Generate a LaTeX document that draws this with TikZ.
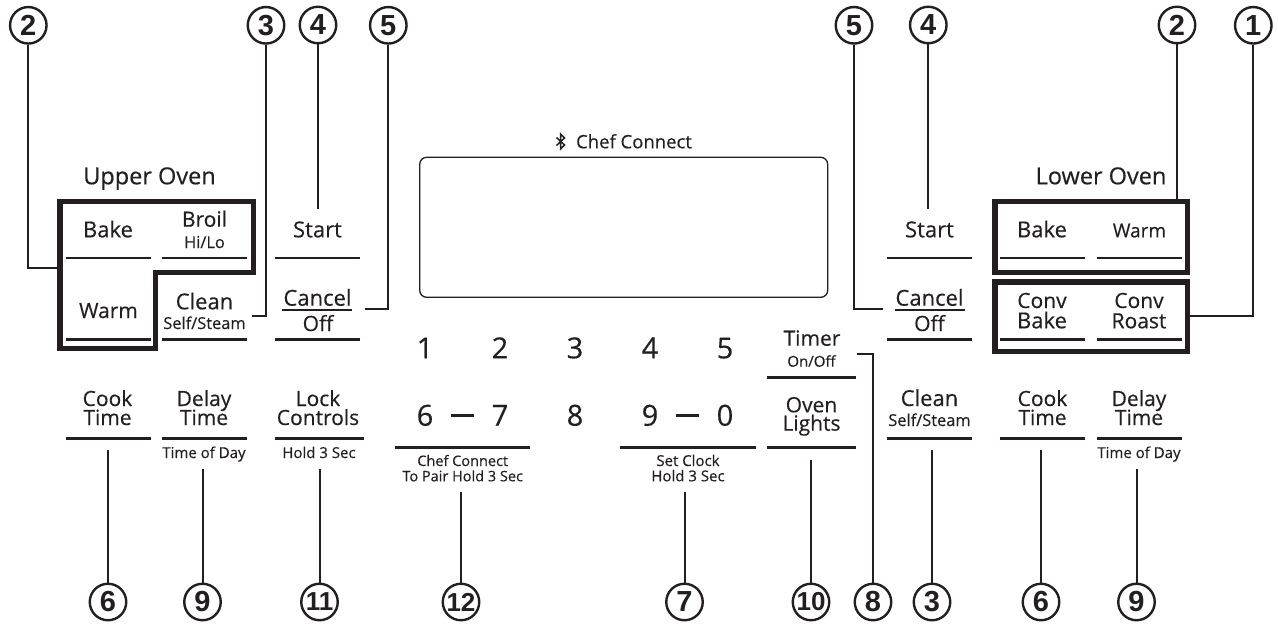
\documentclass[tikz,border=0pt]{standalone}
\usepackage{fontspec}
\setmainfont[FakeBold=0.35]{Open Sans}
\newfontfamily\callfont{Liberation Sans}
\usepackage{tikz}
\usetikzlibrary{calc}

\definecolor{panelink}{HTML}{231F20}
\tikzset{
  keytext/.style={inner sep=0pt, anchor=base, text=panelink, font=\fontsize{21}{21}\selectfont},
  keybig/.style={keytext, font=\fontsize{22}{22}\selectfont},
  subtext/.style={inner sep=0pt, anchor=base, text=panelink, font=\fontsize{15}{15}\selectfont},
  subbig/.style={subtext, font=\fontsize{16.4}{16.4}\selectfont},
  subsmall/.style={subtext, font=\fontsize{14.5}{14.5}\selectfont},
  headtext/.style={inner sep=0pt, anchor=base, text=panelink, font=\fontsize{23.5}{23.5}\selectfont},
  numtext/.style={inner sep=0pt, anchor=base, text=panelink, font=\fontsize{29}{29}\selectfont},
  callout/.style={draw=panelink, circle, line width=2.4pt, minimum size=36.5pt, inner sep=0pt, text=panelink, font=\callfont\bfseries\fontsize{29}{29}\selectfont},
  calltwin/.style={callout, font=\callfont\bfseries\fontsize{26}{26}\selectfont},
  leader/.style={draw=panelink, line width=2pt},
  keyline/.style={draw=panelink, line width=2.7pt},
  groupbox/.style={draw=panelink, line width=5.2pt, miter limit=10}
}

\begin{document}
\begin{tikzpicture}[x=1pt, y=-1pt]
\useasboundingbox (0,0) rectangle (1278,634);

% Display window
\node[draw=panelink, line width=1.3pt, rectangle, rounded corners=7pt, minimum width=408pt, minimum height=140pt, inner sep=0pt] (display) at (623.7,227.3) {};
\node[subtext, font=\fontsize{18.5}{18.5}\selectfont] (chefconnect) at (634,148.3) {Chef Connect};
\draw[draw=panelink, line width=1.5pt] (556.5,137.5) -- (564.5,145) -- (560.5,149) -- (560.5,134) -- (564.5,138) -- (556.5,145.5);

% Upper oven side
\node[headtext] (upperoven) at (149.5,184.3) {Upper Oven};
\draw[groupbox] (60,201.5) -- (253.5,201.5) -- (253.5,272.5) -- (155.5,272.5) -- (155.5,348.5) -- (60,348.5) -- cycle;
\node[keybig] (upbake) at (108,237.3) {Bake};
\node[keytext] (upbroil) at (204.5,226.7) {Broil};
\node[subbig] (uphilo) at (204.5,248) {Hi/Lo};
\node[keytext] (upwarm) at (108.5,318) {Warm};
\node[keybig] (upclean) at (204.5,309.3) {Clean};
\node[subbig] (upself) at (204.5,329) {Self/Steam};
\node[keybig] (upstart) at (317.5,237.3) {Start};
\node[keybig] (upcancel) at (317.5,305.7) {Cancel};
\node[keytext] (upoff) at (318,331) {Off};
\draw[keyline] (66,258) -- (151,258);
\draw[keyline] (162,258) -- (247,258);
\draw[keyline] (275,258) -- (360,258);
\draw[keyline] (66,339.3) -- (151,339.3);
\draw[keyline] (162,339.3) -- (247,339.3);
\draw[keyline] (275,339.3) -- (360,339.3);
\draw[keyline] (282,310) -- (352,310);

% Lower oven side
\node[headtext] (loweroven) at (1101,184.3) {Lower Oven};
\node[draw=panelink, line width=5.2pt, rectangle, minimum width=192.5pt, minimum height=71pt, inner sep=0pt] (lowertop) at (1091.2,237) {};
\node[draw=panelink, line width=5.2pt, rectangle, minimum width=192.5pt, minimum height=69.5pt, inner sep=0pt] (lowerbot) at (1091.2,316.7) {};
\node[keybig] (lobake) at (1042,237.3) {Bake};
\node[keytext, font=\fontsize{19}{19}\selectfont] (lowarm) at (1139.5,237.3) {Warm};
\node[keytext] (loconv) at (1042,308) {Conv};
\node[keybig] (lobakeb) at (1042,328.3) {Bake};
\node[keytext] (loconvr) at (1139,308) {Conv};
\node[keytext] (loroast) at (1139,328.3) {Roast};
\node[keybig] (lostart) at (929.5,237.3) {Start};
\node[keybig] (locancel) at (929.5,305.7) {Cancel};
\node[keytext] (looff) at (929.5,331) {Off};
\draw[keyline] (1000,258) -- (1085,258);
\draw[keyline] (1097,258) -- (1182,258);
\draw[keyline] (887,258) -- (972,258);
\draw[keyline] (1000,339.3) -- (1085,339.3);
\draw[keyline] (1097,339.3) -- (1182,339.3);
\draw[keyline] (887,339.3) -- (972,339.3);
\draw[keyline] (895,310) -- (965,310);

% Number pad
\node[numtext] (num1) at (425,358.3) {1};
\node[numtext] (num2) at (500,358.3) {2};
\node[numtext] (num3) at (575,358.3) {3};
\node[numtext] (num4) at (650,358.3) {4};
\node[numtext] (num5) at (725,358.3) {5};
\node[numtext] (num6) at (425,425.7) {6};
\node[numtext] (num7) at (500,425.7) {7};
\node[numtext] (num8) at (575,425.7) {8};
\node[numtext] (num9) at (650,425.7) {9};
\node[numtext] (num0) at (725,425.7) {0};
\draw[draw=panelink, line width=2.4pt] (451,415.5) -- (474,415.5);
\draw[draw=panelink, line width=2.4pt] (676,415.5) -- (699,415.5);
\draw[keyline] (395,447.3) -- (530,447.3);
\draw[keyline] (620,447.3) -- (756,447.3);
\node[subsmall] (padchef) at (462.7,466) {Chef Connect};
\node[subsmall] (padpair) at (462.7,481.3) {To Pair Hold 3 Sec};
\node[subtext] (padclock) at (688,466) {Set Clock};
\node[subtext] (padhold) at (688,481.3) {Hold 3 Sec};

% Timer and lights
\node[keytext] (timer) at (812,345.7) {Timer};
\node[subtext] (onoff) at (811.5,366.7) {On/Off};
\node[keytext] (oven) at (811.5,412.3) {Oven};
\node[keytext] (lights) at (811.5,430.7) {Lights};
\draw[keyline] (767,377.3) -- (856,377.3);
\draw[keyline] (767,447.3) -- (856,447.3);

% Bottom row of keys
\node[keytext] (cook) at (107.5,406) {Cook};
\node[keytext] (cooktime) at (107.5,425) {Time};
\node[keytext] (delay) at (204,406) {Delay};
\node[keytext] (delaytime) at (204,425) {Time};
\node[subtext] (timeofday) at (204,458) {Time of Day};
\node[keytext] (lock) at (318,406) {Lock};
\node[keytext] (controls) at (318,425) {Controls};
\node[subtext] (holdsec) at (319,458) {Hold 3 Sec};
\node[keybig] (rclean) at (929.5,406) {Clean};
\node[subbig] (rself) at (929.5,426) {Self/Steam};
\node[keytext] (rcook) at (1042.5,406) {Cook};
\node[keytext] (rcooktime) at (1042.5,425) {Time};
\node[keytext] (rdelay) at (1139,406) {Delay};
\node[keytext] (rdelaytime) at (1139,425) {Time};
\node[subtext] (rtimeofday) at (1139,458) {Time of Day};
\draw[keyline] (66,438.5) -- (151,438.5);
\draw[keyline] (162,438.5) -- (247,438.5);
\draw[keyline] (275,438.5) -- (364,438.5);
\draw[keyline] (887,438.5) -- (972,438.5);
\draw[keyline] (1000,438.5) -- (1085,438.5);
\draw[keyline] (1097,438.5) -- (1182,438.5);

% Top callouts
\node[callout] (calltwoa) at (28.3,25.3) {2};
\node[callout] (callthreea) at (266,25.3) {3};
\node[callout] (callfoura) at (318,25) {4};
\node[callout] (callfivea) at (388.3,25.3) {5};
\node[callout] (callfiveb) at (854,25.3) {5};
\node[callout] (callfourb) at (928.3,25) {4};
\node[callout] (calltwob) at (1177,25) {2};
\node[callout] (callone) at (1253.3,25.3) {1};

% Bottom callouts
\node[callout] (callsixa) at (108,602) {6};
\node[callout] (callninea) at (202.5,602) {9};
\node[calltwin] (callelevena) at (319.5,602) {11};
\node[calltwin] (calltwelve) at (461,602) {12};
\node[callout] (callseven) at (684.5,602) {7};
\node[calltwin] (callten) at (811,602) {10};
\node[callout] (calleight) at (873,602) {8};
\node[callout] (callthreeb) at (932,602) {3};
\node[callout] (callsixb) at (1041,602) {6};
\node[callout] (callnineb) at (1136.5,602) {9};

% Free ends of the leaders
\coordinate (endtwoa) at (60,268);
\coordinate (endthreea) at (252,315.7);
\coordinate (endfoura) at (318,209);
\coordinate (endfivea) at (365,309);
\coordinate (endfiveb) at (883,309);
\coordinate (endfourb) at (928.3,209);
\coordinate (endtwob) at (1177,199);
\coordinate (endone) at (1190,316);
\coordinate (endsixa) at (108,450);
\coordinate (endninea) at (202.5,469);
\coordinate (endelevena) at (319.5,469);
\coordinate (endtwelve) at (461,491.7);
\coordinate (endseven) at (684.5,491.7);
\coordinate (endten) at (811,460);
\coordinate (endeight) at (856.5,354.3);
\coordinate (endthreeb) at (932,450);
\coordinate (endsixb) at (1041,450);
\coordinate (endnineb) at (1136.5,469);

% Leaders
\draw[leader] (calltwoa.south) |- (endtwoa);
\draw[leader] (callthreea.south) |- (endthreea);
\draw[leader] (callfoura.south) -- (endfoura);
\draw[leader] (callfivea.south) |- (endfivea);
\draw[leader] (callfiveb.south) |- (endfiveb);
\draw[leader] (callfourb.south) -- (endfourb);
\draw[leader] (calltwob.south) -- (endtwob);
\draw[leader] (callone.south) |- (endone);
\draw[leader] (callsixa.north) -- (endsixa);
\draw[leader] (callninea.north) -- (endninea);
\draw[leader] (callelevena.north) -- (endelevena);
\draw[leader] (calltwelve.north) -- (endtwelve);
\draw[leader] (callseven.north) -- (endseven);
\draw[leader] (callten.north) -- (endten);
\draw[leader] (calleight.north) |- (endeight);
\draw[leader] (callthreeb.north) -- (endthreeb);
\draw[leader] (callsixb.north) -- (endsixb);
\draw[leader] (callnineb.north) -- (endnineb);

\end{tikzpicture}
\end{document}
